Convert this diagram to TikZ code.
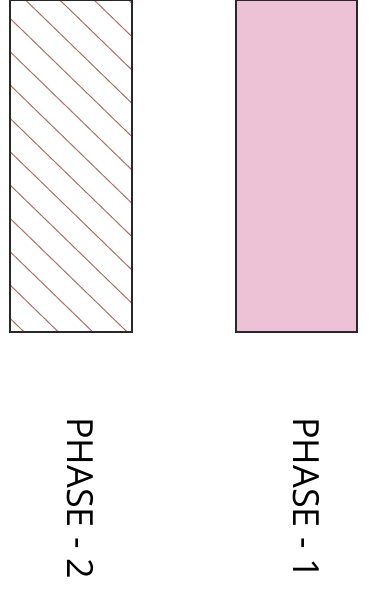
\documentclass[tikz,border=0pt]{standalone}
\usepackage{fontspec}
\setmainfont{Open Sans}
\definecolor{hatchc}{RGB}{172,112,100}
\definecolor{pinkc}{RGB}{237,193,214}
\definecolor{edgec}{RGB}{40,40,40}
\begin{document}
\begin{tikzpicture}[x=1pt,y=-1pt,
  box/.style={draw=edgec,line width=1.4pt,rectangle,inner sep=0pt,outer sep=0pt,minimum width=122pt,minimum height=331.4pt},
  hatchline/.style={draw=hatchc,line width=1pt},
  phaselabel/.style={rotate=-90,anchor=base west,inner sep=0pt,font=\fontsize{36}{40}\selectfont,text=black}]
\useasboundingbox (0,0) rectangle (381,603);
% left hatched box
\node[box] (p2) at (71,166.3) {};
\begin{scope}
  \clip (p2.north west) rectangle (p2.south east);
  \foreach \k in {-5,...,10} {
    \draw[hatchline] (-10,{18.3+33.33*\k-19.4}) -- (150,{136.7+33.33*\k+17.5});
  }
\end{scope}
\node[box] at (p2) {};
% right pink box
\node[box,fill=pinkc,minimum width=121pt] (p1) at (296.5,166.3) {};
% labels
\node[phaselabel] (l2) at (67,417) {PHASE - 2};
\node[phaselabel] (l1) at (293,417) {PHASE - 1};
\end{tikzpicture}
\end{document}
